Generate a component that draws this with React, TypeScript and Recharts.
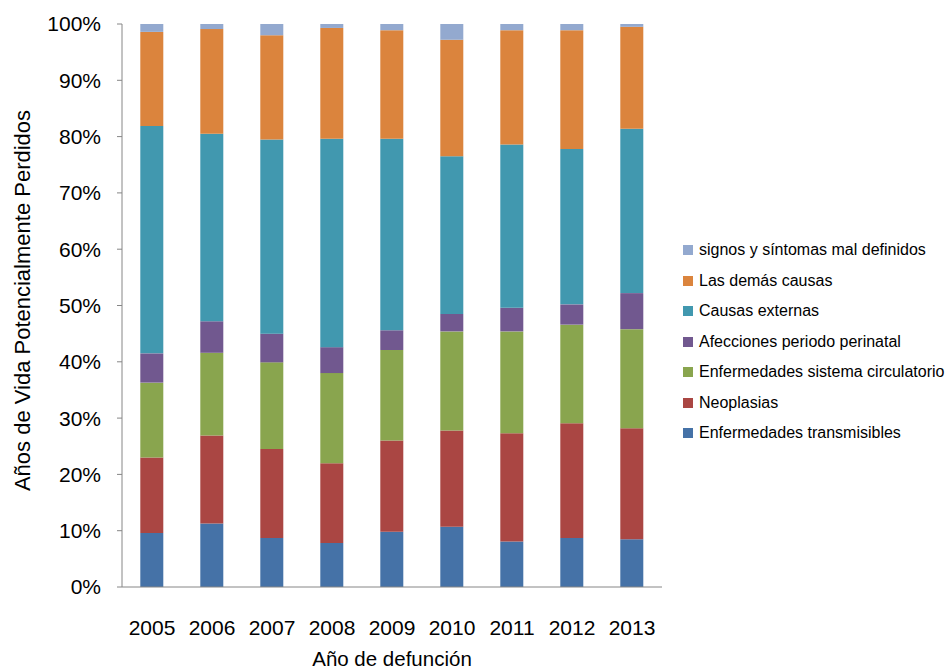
import { Bar, BarChart, XAxis, YAxis } from "recharts";

const years = ["2005", "2006", "2007", "2008", "2009", "2010", "2011", "2012", "2013"];
const transmisibles = [9.6, 11.3, 8.7, 7.8, 9.8, 10.7, 8.1, 8.7, 8.5];
const neoplasias = [13.4, 15.6, 15.8, 14.2, 16.2, 17.1, 19.2, 20.4, 19.7];
const circulatorio = [13.3, 14.7, 15.4, 16.0, 16.1, 17.6, 18.1, 17.5, 17.6];
const perinatal = [5.2, 5.6, 5.1, 4.6, 3.5, 3.1, 4.2, 3.6, 6.4];
const externas = [40.4, 33.3, 34.5, 37.0, 34.0, 28.0, 29.0, 27.6, 29.2];
const demas = [16.7, 18.6, 18.5, 19.7, 19.3, 20.7, 20.3, 21.1, 18.1];
const signos = [1.4, 0.9, 2.0, 0.7, 1.1, 2.8, 1.1, 1.1, 0.5];

const yTicks = [0, 10, 20, 30, 40, 50, 60, 70, 80, 90, 100];
const edgeTicks = [0, 1, 2, 3, 4, 5, 6, 7, 8, 9];

const series = [
  { key: "transmisibles", name: "Enfermedades transmisibles", color: "#4572A7" },
  { key: "neoplasias", name: "Neoplasias", color: "#AA4643" },
  { key: "circulatorio", name: "Enfermedades sistema circulatorio", color: "#89A54E" },
  { key: "perinatal", name: "Afecciones periodo perinatal", color: "#71588F" },
  { key: "externas", name: "Causas externas", color: "#4198AF" },
  { key: "demas", name: "Las demás causas", color: "#DB843D" },
  { key: "signos", name: "signos y síntomas mal definidos", color: "#93A9CF" },
];

const data = years.map((year, i) => ({
  year,
  transmisibles: transmisibles[i],
  neoplasias: neoplasias[i],
  circulatorio: circulatorio[i],
  perinatal: perinatal[i],
  externas: externas[i],
  demas: demas[i],
  signos: signos[i],
}));

const font = "'Liberation Sans', Arial, sans-serif";
const axisGray = "#868686";

function YearTick({ x, y, payload }: any) {
  return (
    <text x={x} y={y + 40} textAnchor="middle" fontSize={21} fill="#000" fontFamily={font}>
      {payload.value}
    </text>
  );
}

export default function App() {
  return (
    <div style={{ position: "absolute", left: 0, top: 0, width: 945, height: 672, background: "#fff", fontFamily: font }}>
      <BarChart
        width={945}
        height={672}
        data={data}
        margin={{ top: 24, right: 283, bottom: 0, left: 0 }}
        barCategoryGap="30.5%"
      >
        <XAxis
          xAxisId="edge"
          type="number"
          domain={[0, 9]}
          ticks={edgeTicks}
          tickFormatter={() => ""}
          height={0}
          axisLine={false}
          tickLine={{ stroke: axisGray }}
          tickSize={6}
        />
        <XAxis
          xAxisId="cat"
          dataKey="year"
          height={85}
          axisLine={{ stroke: axisGray }}
          tickLine={false}
          tick={<YearTick />}
          label={{
            content: ({ viewBox }: any) => (
              <text
                x={viewBox.x + viewBox.width / 2}
                y={666}
                textAnchor="middle"
                fontSize={20.5}
                fill="#000"
                fontFamily={font}
              >
                Año de defunción
              </text>
            ),
          }}
        />
        <YAxis
          width={122}
          domain={[0, 100]}
          ticks={yTicks}
          interval={0}
          tickFormatter={(v: number) => `${v}%`}
          axisLine={{ stroke: axisGray }}
          tickLine={{ stroke: axisGray }}
          tickSize={5}
          tickMargin={16}
          tick={{ fontSize: 21, fill: "#000", fontFamily: font }}
          label={{
            content: ({ viewBox }: any) => {
              const cy = viewBox.y + viewBox.height / 2 - 5;
              return (
                <text
                  x={30}
                  y={cy}
                  transform={`rotate(-90, 30, ${cy})`}
                  textAnchor="middle"
                  fontSize={22}
                  fill="#000"
                  fontFamily={font}
                >
                  Años de Vida Potencialmente Perdidos
                </text>
              );
            },
          }}
        />
        {series.map((s) => (
          <Bar
            key={s.key}
            xAxisId="cat"
            dataKey={s.key}
            name={s.name}
            stackId="a"
            fill={s.color}
            isAnimationActive={false}
          />
        ))}
      </BarChart>
      <div style={{ position: "absolute", left: 683, top: 235 }}>
        {[...series].reverse().map((s) => (
          <div key={s.key} style={{ display: "flex", alignItems: "center", height: 30.5 }}>
            <div style={{ width: 10, height: 10, background: s.color, marginRight: 6 }} />
            <span style={{ fontSize: 16, color: "#000", whiteSpace: "nowrap" }}>{s.name}</span>
          </div>
        ))}
      </div>
    </div>
  );
}
